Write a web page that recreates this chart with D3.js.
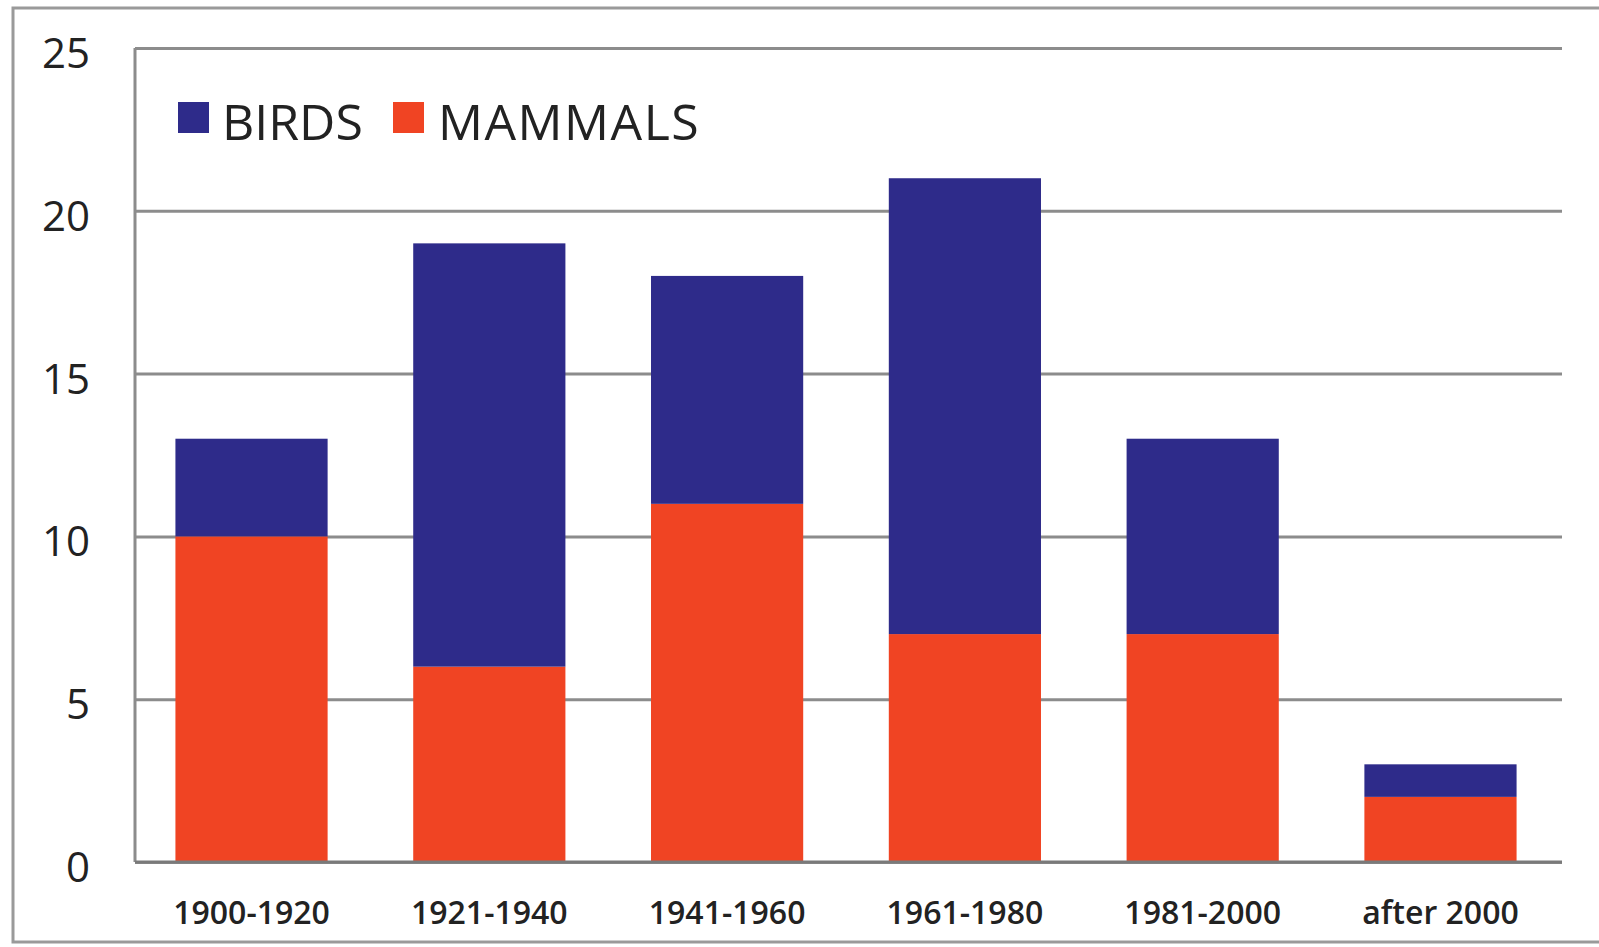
<!DOCTYPE html>
<html>
<head>
<meta charset="utf-8">
<script src="https://cdn.jsdelivr.net/npm/d3@7/dist/d3.min.js"></script>
<style>
  html, body { margin: 0; padding: 0; background: #fff; }
  svg { display: block; }
  text { font-family: "Open Sans", "DejaVu Sans", sans-serif; fill: #222; }
</style>
</head>
<body>
<svg id="chart" width="1599" height="947"></svg>
<script>
const categories = ["1900-1920", "1921-1940", "1941-1960", "1961-1980", "1981-2000", "after 2000"];
const mammals = [10, 6, 11, 7, 7, 2];
const birds = [3, 13, 7, 14, 6, 1];
const seriesNames = ["BIRDS", "MAMMALS"];
const seriesColors = ["#2e2b8a", "#f04423"];
const yTicks = [0, 5, 10, 15, 20, 25];

(function () {
const svg = d3.select("#chart");
const W = 1599, H = 947;
const pLeft = 135, pRight = 1562, pTop = 48, pBottom = 862;

// outer frame
svg.append("rect")
  .attr("x", 13).attr("y", 8).attr("width", W + 20).attr("height", 934)
  .attr("fill", "none").attr("stroke", "#9a9a9a").attr("stroke-width", 3);

const x = d3.scaleBand().domain(categories).range([pLeft, pRight - 5])
  .paddingInner(0.36).paddingOuter(0.17);
const y = d3.scaleLinear().domain([0, 25]).range([pBottom, pTop]);

// gridlines
const grid = svg.append("g").attr("transform", `translate(${pLeft},0)`)
  .call(d3.axisRight(y).tickValues(yTicks).tickSize(pRight - pLeft).tickFormat(""));
grid.select(".domain").remove();
grid.selectAll(".tick line").attr("stroke", "#8c8c8c").attr("stroke-width", 3);

// left axis line
svg.append("line").attr("x1", pLeft).attr("x2", pLeft).attr("y1", pTop).attr("y2", pBottom)
  .attr("stroke", "#8c8c8c").attr("stroke-width", 3);

// y labels
const yAx = svg.append("g").attr("transform", `translate(90,6)`)
  .call(d3.axisLeft(y).tickValues(yTicks).tickSize(0).tickPadding(0).tickFormat(d3.format("d")));
yAx.select(".domain").remove();
yAx.selectAll("text").style("font-size", "42px").style("font-weight", "500")
  .style("font-family", "'Open Sans', sans-serif").attr("fill", "#222");

// stacked data
const rows = categories.map((c, i) => ({ cat: c, MAMMALS: mammals[i], BIRDS: birds[i] }));
const stack = d3.stack().keys(["MAMMALS", "BIRDS"])(rows);
const color = d3.scaleOrdinal().domain(seriesNames).range(seriesColors);

svg.append("g").selectAll("g").data(stack).join("g")
  .attr("fill", d => color(d.key))
  .selectAll("rect").data(d => d).join("rect")
  .attr("x", d => x(d.data.cat))
  .attr("width", x.bandwidth())
  .attr("y", d => y(d[1]))
  .attr("height", d => y(d[0]) - y(d[1]));

// baseline
svg.append("line").attr("x1", pLeft).attr("x2", pRight).attr("y1", pBottom).attr("y2", pBottom)
  .attr("stroke", "#7a7a7a").attr("stroke-width", 3);

// x labels
const xAx = svg.append("g").attr("transform", `translate(0,${pBottom})`)
  .call(d3.axisBottom(x).tickSize(0).tickPadding(39));
xAx.select(".domain").remove();
xAx.selectAll("text").style("font-size", "32px").style("font-weight", "600")
  .style("font-family", "'Open Sans', sans-serif").attr("fill", "#333");

// legend
const legend = svg.append("g");
const legItems = [
  { name: "BIRDS", sx: 178, tx: 222, ls: 0 },
  { name: "MAMMALS", sx: 393, tx: 438, ls: 1.5 }
];
legItems.forEach(it => {
  legend.append("rect").attr("x", it.sx).attr("y", 102).attr("width", 31).attr("height", 31)
    .attr("fill", color(it.name));
  legend.append("text").attr("x", it.tx).attr("y", 140).text(it.name)
    .style("font-size", "50px").style("letter-spacing", it.ls + "px").attr("fill", "#1a1a1a");
});
})();
</script>
</body>
</html>
